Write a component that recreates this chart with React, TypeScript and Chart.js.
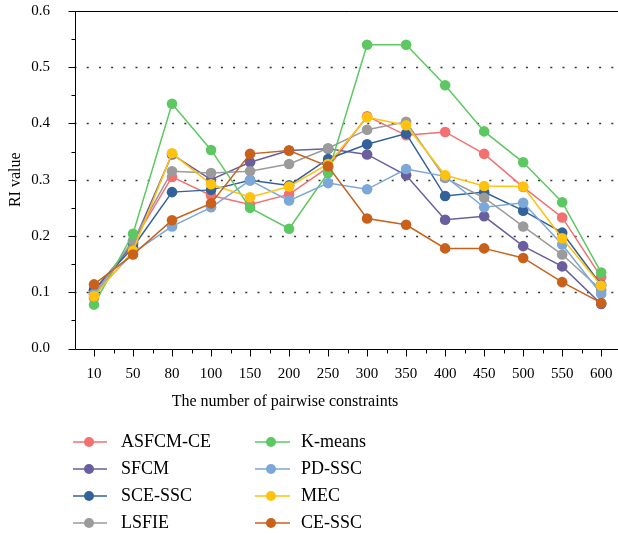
import React, { useEffect, useRef } from 'react';
import { Chart, registerables } from 'chart.js';

Chart.register(...registerables);

const categories = ['10', '50', '80', '100', '150', '200', '250', '300', '350', '400', '450', '500', '550', '600'];

const seriesNames = ['ASFCM-CE', 'SFCM', 'SCE-SSC', 'LSFIE', 'K-means', 'PD-SSC', 'MEC', 'CE-SSC'];
const seriesColors = ['#F46F6F', '#6B5E9E', '#33619A', '#9B9B9B', '#5DC862', '#7BA7D9', '#FFC20E', '#C9611B'];

const asfcmCe = [0.09, 0.189, 0.305, 0.272, 0.256, 0.274, 0.322, 0.413, 0.379, 0.385, 0.346, 0.287, 0.233, 0.127];
const sfcm = [0.103, 0.186, 0.345, 0.3, 0.331, 0.352, 0.355, 0.345, 0.308, 0.229, 0.235, 0.182, 0.146, 0.079];
const sceSsc = [0.104, 0.18, 0.278, 0.282, 0.299, 0.29, 0.337, 0.363, 0.382, 0.271, 0.278, 0.245, 0.206, 0.113];
const lsfie = [0.096, 0.192, 0.315, 0.312, 0.315, 0.328, 0.356, 0.389, 0.403, 0.303, 0.268, 0.217, 0.167, 0.104];
const kMeans = [0.078, 0.204, 0.435, 0.353, 0.25, 0.213, 0.312, 0.54, 0.54, 0.468, 0.386, 0.331, 0.26, 0.135];
const pdSsc = [0.097, 0.17, 0.217, 0.251, 0.299, 0.263, 0.294, 0.283, 0.319, 0.306, 0.251, 0.259, 0.185, 0.097];
const mec = [0.093, 0.174, 0.347, 0.292, 0.269, 0.288, 0.328, 0.411, 0.397, 0.308, 0.289, 0.288, 0.196, 0.112];
const ceSsc = [0.114, 0.167, 0.228, 0.258, 0.346, 0.352, 0.324, 0.231, 0.22, 0.178, 0.178, 0.161, 0.118, 0.081];

const seriesValues = [asfcmCe, sfcm, sceSsc, lsfie, kMeans, pdSsc, mec, ceSsc];

const yTickValues = [0, 0.1, 0.2, 0.3, 0.4, 0.5, 0.6];
const gridValues = [0.1, 0.2, 0.3, 0.4, 0.5];

const xTitle = 'The number of pairwise constraints';
const yTitle = 'RI value';

const FONT = '"Liberation Serif", "Times New Roman", serif';

const decorPlugin = {
  id: 'decor',
  beforeDatasetsDraw(chart: any) {
    const { ctx, chartArea } = chart;
    const { left, right } = chartArea;
    const y = chart.scales.y;
    ctx.save();
    ctx.strokeStyle = '#333';
    ctx.lineWidth = 1.3;
    ctx.setLineDash([2, 10.2]);
    for (const v of gridValues) {
      const py = Math.round(y.getPixelForValue(v)) + 0.5;
      ctx.beginPath();
      ctx.moveTo(left, py);
      ctx.lineTo(right, py);
      ctx.stroke();
    }
    ctx.restore();
  },
  afterDraw(chart: any) {
    const { ctx, chartArea } = chart;
    const { left, right, top, bottom } = chartArea;
    const x = chart.scales.x;
    const y = chart.scales.y;
    const L = Math.round(left) + 0.5;
    const B = Math.round(bottom) + 0.5;
    const T = Math.round(top) + 0.5;
    ctx.save();
    ctx.strokeStyle = '#000';
    ctx.lineWidth = 1;
    ctx.setLineDash([]);
    ctx.beginPath();
    ctx.moveTo(L, T);
    ctx.lineTo(L, B);
    ctx.lineTo(right + 2, B);
    ctx.moveTo(L, T);
    ctx.lineTo(right + 2, T);
    // y ticks
    for (let i = 0; i <= 12; i++) {
      const v = i * 0.05;
      const py = Math.round(y.getPixelForValue(v)) + 0.5;
      const len = i % 2 === 0 ? 7 : 4;
      ctx.moveTo(L - len, py);
      ctx.lineTo(L, py);
    }
    // x ticks
    const n = categories.length;
    for (let i = 0; i < n; i++) {
      const px = Math.round(x.getPixelForValue(i)) + 0.5;
      ctx.moveTo(px, B);
      ctx.lineTo(px, B + 7);
      if (i < n - 1) {
        const mx = Math.round((x.getPixelForValue(i) + x.getPixelForValue(i + 1)) / 2) + 0.5;
        ctx.moveTo(mx, B);
        ctx.lineTo(mx, B + 4);
      }
    }
    ctx.stroke();

    // x title
    ctx.fillStyle = '#000';
    ctx.font = `16px ${FONT}`;
    ctx.textAlign = 'center';
    ctx.textBaseline = 'middle';
    ctx.fillText(xTitle, 285, 402);

    // legend (column-major, 2 columns x 4 rows)
    const rows = [442, 469, 496, 523];
    const cols = [
      { x1: 73, x2: 107, cx: 89, tx: 121 },
      { x1: 255, x2: 290, cx: 271, tx: 301 },
    ];
    ctx.font = `18px ${FONT}`;
    ctx.textAlign = 'left';
    seriesNames.forEach((name, i) => {
      const c = cols[Math.floor(i / 4)];
      const ry = rows[i % 4];
      ctx.strokeStyle = seriesColors[i];
      ctx.lineWidth = 1.5;
      ctx.beginPath();
      ctx.moveTo(c.x1, ry);
      ctx.lineTo(c.x2, ry);
      ctx.stroke();
      ctx.fillStyle = seriesColors[i];
      ctx.beginPath();
      ctx.arc(c.cx, ry, 5, 0, Math.PI * 2);
      ctx.fill();
      ctx.fillStyle = '#000';
      ctx.fillText(name, c.tx, ry);
    });
    ctx.restore();
  },
};

export default function App() {
  const canvasRef = useRef<HTMLCanvasElement | null>(null);

  useEffect(() => {
    if (!canvasRef.current) return;
    const datasets = seriesNames.map((name, i) => ({
      label: name,
      data: seriesValues[i],
      borderColor: seriesColors[i],
      backgroundColor: seriesColors[i],
      pointBackgroundColor: seriesColors[i],
      pointBorderColor: seriesColors[i],
      pointRadius: 5.3,
      pointBorderWidth: 0,
      borderWidth: 1.5,
      tension: 0,
      order: seriesNames.length - i,
    }));
    const chart = new Chart(canvasRef.current, {
      type: 'line',
      data: { labels: categories, datasets },
      options: {
        responsive: false,
        animation: false,
        devicePixelRatio: 1,
        layout: { padding: { left: 0, top: 11, right: 1.5, bottom: 146.5 } },
        plugins: { legend: { display: false }, tooltip: { enabled: false } },
        scales: {
          x: {
            type: 'category',
            offset: true,
            grid: { display: false, drawTicks: true, tickLength: 17 },
            border: { display: false },
            ticks: {
              color: '#000',
              font: { family: FONT, size: 15 },
              padding: 0,
              maxRotation: 0,
              autoSkip: false,
            },
            afterFit: (s: any) => {
              s.height = 40;
            },
          },
          y: {
            min: 0,
            max: 0.6,
            grid: { display: false, drawTicks: true, tickLength: 24.5 },
            border: { display: false },
            afterBuildTicks: (s: any) => {
              s.ticks = yTickValues.map((v) => ({ value: v }));
            },
            ticks: {
              color: '#000',
              font: { family: FONT, size: 15 },
              padding: 0,
              callback: (v: any) => Number(v).toFixed(1),
            },
            title: {
              display: true,
              text: yTitle,
              color: '#000',
              font: { family: FONT, size: 16 },
              padding: { top: 6, bottom: 0 },
            },
            afterFit: (s: any) => {
              s.width = 74.5;
            },
          },
        },
      },
      plugins: [decorPlugin],
    });
    return () => chart.destroy();
  }, []);

  return (
    <div
      style={{
        position: 'fixed',
        left: 0,
        top: 0,
        width: 618,
        height: 535,
        overflow: 'hidden',
        background: '#fff',
      }}
    >
      <canvas ref={canvasRef} width={626} height={535} style={{ display: 'block', width: 626, height: 535 }} />
    </div>
  );
}
